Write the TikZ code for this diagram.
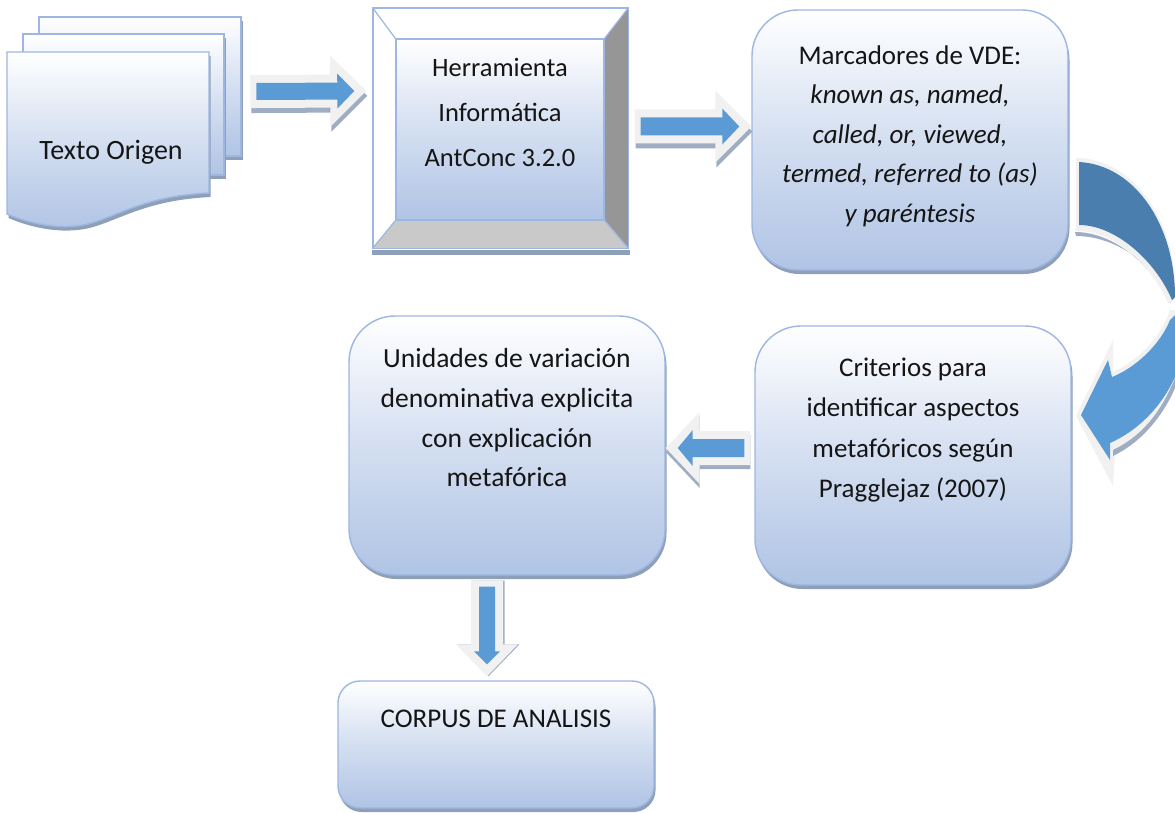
\documentclass[tikz,border=0pt]{standalone}
\usepackage{fontspec}
\setmainfont{Carlito}
\usetikzlibrary{calc}
\definecolor{edgeb}{HTML}{9DB6E2}
\definecolor{shadeb}{HTML}{B0C4E5}
\definecolor{shadowb}{HTML}{8E9FB8}
\definecolor{halo}{HTML}{F1F1F1}
\definecolor{blueb}{HTML}{5B9BD5}
\definecolor{darkb}{HTML}{4A7EAE}
\definecolor{ink}{HTML}{151515}
\tikzset{
  x=1pt,y=-1pt,
  gradfill/.style={top color=white,bottom color=shadeb,middle color=white!45!shadeb,draw=edgeb,line width=1.4pt},
  softshadow/.style={preaction={fill=shadowb,transform canvas={shift={(1.5pt,-4pt)}}}},
  roundbox/.style={gradfill,softshadow,rounded corners=#1,inner sep=0pt,align=center,text=ink},
  label font/.style 2 args={font=\fontsize{#1}{#2}\selectfont},
  plainlabel/.style={inner sep=0pt,align=center,text=ink},
}
\newcommand{\blockarrow}[7]{%
  \pgfpointdiff{\pgfpointanchor{#1}{center}}{\pgfpointanchor{#2}{center}}%
  \pgfgetlastxy{\dxa}{\dya}%
  \pgfmathsetmacro{\La}{veclen(\dxa,\dya)}%
  \pgfmathsetmacro{\Aa}{atan2(\dya,\dxa)}%
  \pgfmathsetmacro{\Ba}{\La-#7}%
  \pgfmathsetmacro{\Ca}{\La-#7-7}%
  \pgfmathsetmacro{\Ta}{\La+12}%
  \pgfmathsetmacro{\Ha}{#5+8}%
  \pgfmathsetmacro{\Ga}{#6+18}%
  \begin{scope}[shift={(#1)},xshift=#3pt,yshift=#4pt,rotate=\Aa,x=1pt,y=1pt]
    \fill[shadowb!85!white] (-6,-\Ha) -- (\Ca,-\Ha) -- (\Ca,-\Ga) -- (\Ta,0) -- (\Ca,\Ga) -- (\Ca,\Ha) -- (-6,\Ha) -- cycle;
  \end{scope}
  \begin{scope}[shift={(#1)},rotate=\Aa,x=1pt,y=1pt]
    \fill[halo] (-6,-\Ha) -- (\Ca,-\Ha) -- (\Ca,-\Ga) -- (\Ta,0) -- (\Ca,\Ga) -- (\Ca,\Ha) -- (-6,\Ha) -- cycle;
    \fill[blueb] (0,-#5) -- (\Ba,-#5) -- (\Ba,-#6) -- (\La,0) -- (\Ba,#6) -- (\Ba,#5) -- (0,#5) -- cycle;
  \end{scope}
}
\begin{document}
\begin{tikzpicture}
\useasboundingbox (0,0) rectangle (1175,813);
\fill[white] (0,0) rectangle (1175,813);

% document stack
\path[gradfill,softshadow] (39,17) rectangle (241,156);
\path[gradfill,softshadow] (23,34) rectangle (224,175);
\path[gradfill,softshadow] (7,52) -- (209,52) -- (209,193)
  .. controls (150,196) and (125,212) .. (95,222)
  .. controls (65,232) and (30,224) .. (7,214) -- cycle;
\node[plainlabel,label font={28}{30}] (doc) at (111,152) {Texto Origen};

% bevel box
\node[draw=edgeb,line width=1.4pt,fill=white,minimum width=255pt,minimum height=240pt,inner sep=0pt] (bevel) at (500.5,128) {};
\fill[shadowb] ([yshift=-1pt]bevel.south west) rectangle ([xshift=1.5pt,yshift=-6pt]bevel.south east);
\node[gradfill,minimum width=208pt,minimum height=181pt,inner sep=0pt,align=center,text=ink,label font={26.5}{45}] (herr) at (500,129.5)
  {Herramienta\\Informática\\AntConc 3.2.0\\[-24pt]\strut};
\fill[black!41] (bevel.north east) -- (herr.north east) -- (herr.south east) -- (bevel.south east) -- cycle;
\fill[black!21] (bevel.south west) -- (herr.south west) -- (herr.south east) -- (bevel.south east) -- cycle;
\draw[edgeb,line width=1.2pt] (bevel.north west) -- (herr.north west) (bevel.south west) -- (herr.south west)
  (bevel.north east) -- (herr.north east) (bevel.south east) -- (herr.south east);
\draw[edgeb,line width=1.4pt] (bevel.north west) rectangle (bevel.south east) (herr.north west) rectangle (herr.south east);

% rounded boxes
\node[roundbox=46pt,minimum width=316pt,minimum height=260pt,label font={27}{39.5}] (marc) at (910,140)
  {Marcadores de VDE:\\ \textit{known as, named,}\\ \textit{called, or, viewed,}\\ \textit{termed, referred to (as)}\\ \textit{y paréntesis}\\[-39.5pt]\strut};
\node[roundbox=46pt,minimum width=316pt,minimum height=259pt,label font={27}{40.5}] (crit) at (913,455.5)
  {Criterios para\\identificar aspectos\\metafóricos según\\Pragglejaz (2007)\\[-38pt]\strut\\\strut};
\node[roundbox=46pt,minimum width=316pt,minimum height=259pt,label font={27.6}{39.7}] (unid) at (507,445.5)
  {Unidades de variación\\denominativa explicita\\con explicación\\metafórica\\[-36pt]\strut\\\strut};
\node[roundbox=22pt,minimum width=316pt,minimum height=127pt,label font={27}{44}] (corp) at (496,744.5)
  {CORPUS DE ANALISIS\\[-6pt]\strut};

% block arrows
\coordinate (a1s) at ([xshift=73.5pt,yshift=60.5pt]doc.east);
\coordinate (a1e) at ([xshift=-18pt,yshift=37pt]bevel.west);
\coordinate (a2s) at ([xshift=12pt,yshift=1.5pt]bevel.east);
\coordinate (a2e) at ([xshift=-12pt,yshift=13.5pt]marc.west);
\coordinate (a3s) at ([xshift=-10pt,yshift=7.5pt]crit.west);
\coordinate (a3e) at ([xshift=12pt,yshift=-2.5pt]unid.east);
\coordinate (a4s) at ([xshift=-20pt,yshift=-11pt]unid.south);
\coordinate (a4e) at ([xshift=-9pt,yshift=16pt]corp.north);
\blockarrow{a1s}{a1e}{1}{-5}{8.5}{17.5}{17}
\blockarrow{a2s}{a2e}{1}{-5}{9}{18}{17}
\blockarrow{a3s}{a3e}{0}{-4}{9}{18}{15}
\blockarrow{a4s}{a4e}{1.5}{0}{8}{13}{13}

% curved arrow
\coordinate (cdark) at (1079,162);
\fill[shadowb!85!white] (1075,232) .. controls (1112,232) and (1150,262) .. (1170,303) -- (1172,300) .. controls (1155,264) and (1115,236) .. (1076,236) -- cycle;
\fill[halo] (1076,158) -- (1079,158) .. controls (1137,161) and (1178,225) .. (1175,300) -- (1168,303) .. controls (1150,262) and (1112,230) .. (1076,231) -- cycle;
\fill[darkb] (cdark) .. controls (1135,165) and (1175,225) .. (1175,297) -- (1172,300) .. controls (1155,260) and (1115,225) .. (1079,225) -- cycle;
\fill[halo] (1175,310) -- (1175,385) .. controls (1160,415) and (1140,440) .. (1115,452) -- (1113,486) -- (1076,416) -- (1113,340) -- (1113,372) .. controls (1135,362) and (1160,340) .. (1170,310) -- cycle;
\fill[shadowb!85!white] (1175,378) .. controls (1160,415) and (1140,437) .. (1113,450) -- (1113,456) .. controls (1140,443) and (1162,418) .. (1175,388) -- cycle;
\fill[blueb] (1175,315) -- (1175,377) .. controls (1160,410) and (1135,432) .. (1110,443) -- (1110,460) -- (1081,415) -- (1108,360) -- (1112,377) .. controls (1135,368) and (1160,345) .. (1170,320) -- cycle;
\end{tikzpicture}
\end{document}
